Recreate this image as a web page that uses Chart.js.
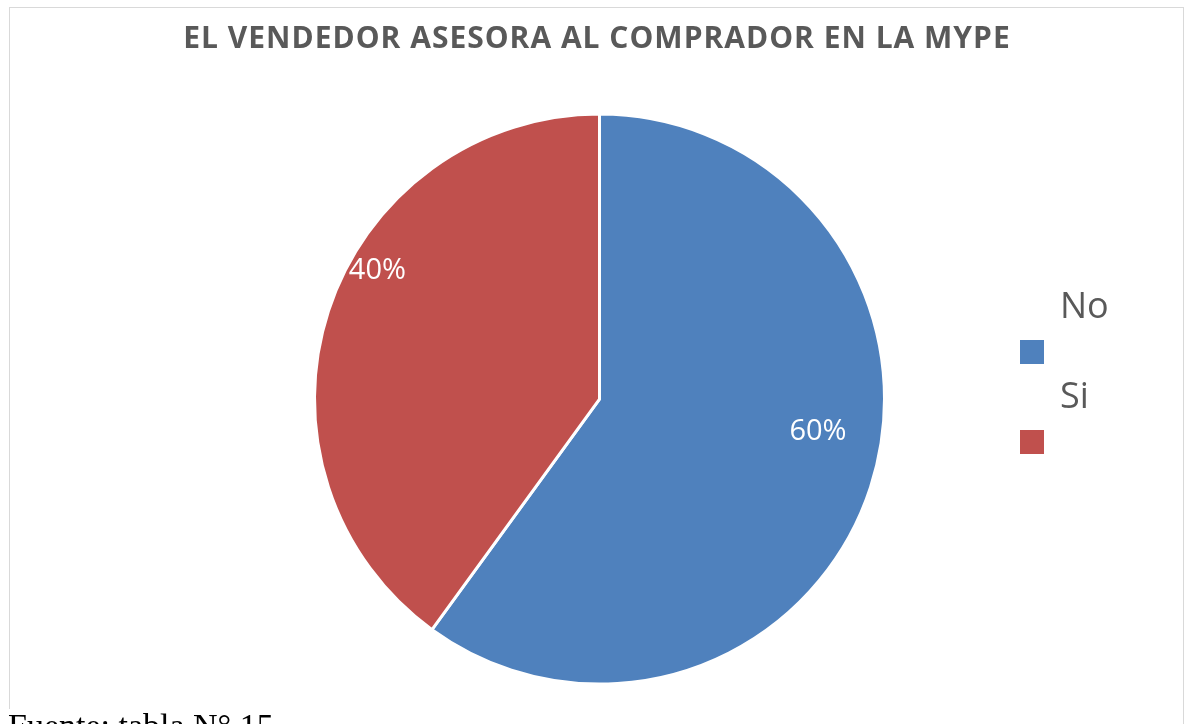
<!DOCTYPE html>
<html>
<head>
<meta charset="utf-8">
<script src="https://cdn.jsdelivr.net/npm/chart.js@4"></script>
<style>
  html, body { margin: 0; padding: 0; background: #fff; overflow: hidden; }
  #wrap { position: relative; width: 1186px; height: 724px; }
  #frame {
    position: absolute; left: 9px; top: 7px; width: 1175px; height: 740px;
    border: 1px solid #d9d9d9; box-sizing: border-box;
  }
  #chart { position: absolute; left: 0; top: 0; }
  #source {
    position: absolute; left: 8px; top: 709px;
    font-family: "Liberation Serif", "Times New Roman", serif; font-size: 34px; color: #000;
    background: #fff; line-height: 33px; white-space: nowrap;
  }
</style>
</head>
<body>
<div id="wrap">
  <div id="frame"></div>
  <canvas id="chart" width="1186" height="724"></canvas>
  <div id="source">Fuente: tabla N° 15</div>
</div>
<script>
const chartTitle = "EL VENDEDOR ASESORA AL COMPRADOR EN LA MYPE";
const categories = ["No", "Si"];
const percentages = [60, 40];
const sliceColors = ["#4f81bd", "#c0504d"];

// Excel-like "best fit" nudges for the value labels (angle shift in degrees, radius fraction)
const labelNudge = [
    { shift: -9.5, r: 0.775 },
    { shift: 12, r: 0.9 }
];

// the built-in title squeezes text to the chart area width, so draw it here
const wideTitle = {
    id: "wideTitle",
    afterDraw(chart) {
        const ctx = chart.ctx;
        ctx.save();
        ctx.font = "bold 30px 'Open Sans', sans-serif";
        if ("letterSpacing" in ctx) ctx.letterSpacing = "1px";
        ctx.fillStyle = "#595959";
        ctx.textAlign = "center";
        ctx.textBaseline = "alphabetic";
        ctx.fillText(chartTitle, 597, 48);
        ctx.restore();
    }
};

const valueLabels = {
    id: "valueLabels",
    afterDatasetsDraw(chart) {
        const ctx = chart.ctx;
        const meta = chart.getDatasetMeta(0);
        ctx.save();
        ctx.font = "29px 'Open Sans', sans-serif";
        ctx.fillStyle = "#ffffff";
        ctx.textAlign = "center";
        ctx.textBaseline = "middle";
        meta.data.forEach((arc, i) => {
            const p = arc.getProps(["x", "y", "startAngle", "endAngle", "outerRadius"], true);
            const mid = (p.startAngle + p.endAngle) / 2 + labelNudge[i].shift * Math.PI / 180;
            const r = p.outerRadius * labelNudge[i].r;
            const v = chart.data.datasets[0].data[i];
            ctx.fillText(v + "%", p.x + Math.cos(mid) * r, p.y + Math.sin(mid) * r);
        });
        ctx.restore();
    }
};

// legend drawn like the Excel one: label above its colour box
const sideLegend = {
    id: "sideLegend",
    afterDraw(chart) {
        const ctx = chart.ctx;
        const ds = chart.data.datasets[0];
        ctx.save();
        ctx.font = "36px 'Open Sans', sans-serif";
        ctx.textBaseline = "alphabetic";
        ctx.textAlign = "left";
        chart.data.labels.forEach((lab, i) => {
            const y = 318 + i * 90;
            ctx.fillStyle = "#595959";
            ctx.fillText(lab, 1060, y);
            ctx.fillStyle = ds.backgroundColor[i];
            ctx.fillRect(1020, y + 22, 24, 24);
        });
        ctx.restore();
    }
};

new Chart(document.getElementById("chart").getContext("2d"), {
    type: "pie",
    data: {
        labels: categories,
        datasets: [{
            data: percentages,
            backgroundColor: sliceColors,
            borderColor: "#ffffff",
            borderWidth: 3
        }]
    },
    options: {
        responsive: false,
        animation: false,
        events: [],
        layout: { padding: { top: 112.6, bottom: 38.4, left: 313, right: 300 } },
        plugins: {
            legend: { display: false },
            tooltip: { enabled: false },
            title: { display: false }
        }
    },
    plugins: [valueLabels, sideLegend, wideTitle]
});
</script>
</body>
</html>
